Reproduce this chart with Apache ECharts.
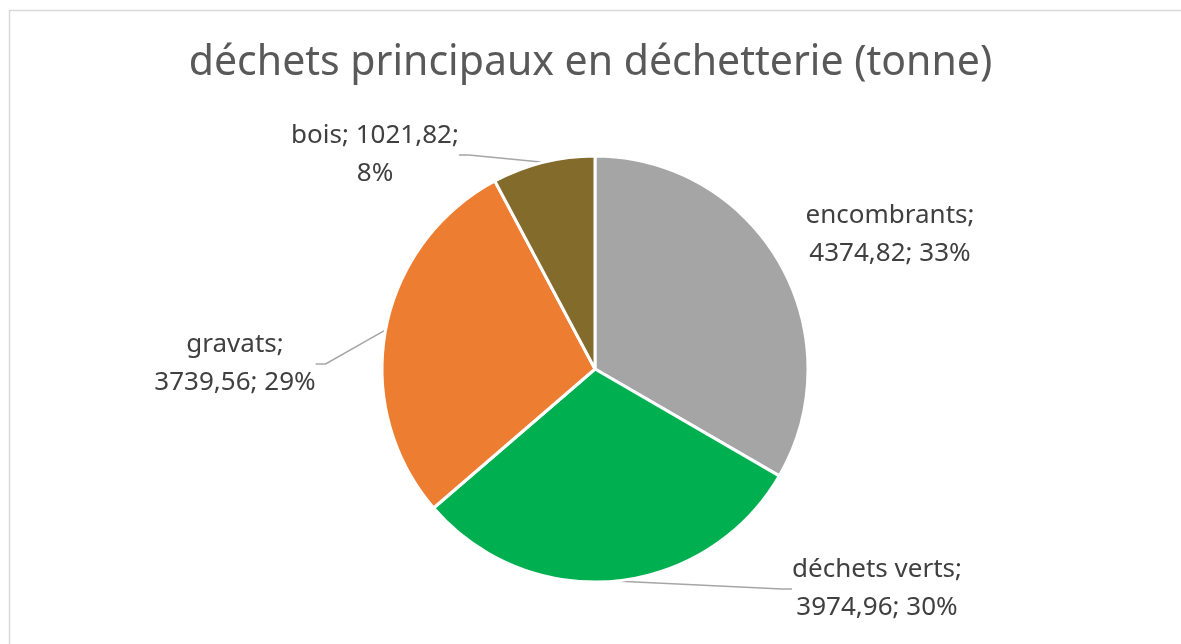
<!DOCTYPE html>
<html>
<head>
<meta charset="utf-8">
<script src="https://cdn.jsdelivr.net/npm/echarts@6/dist/echarts.min.js"></script>
<style>
  html, body { margin: 0; padding: 0; background: #fff; }
  #chart { width: 1181px; height: 644px; }
</style>
</head>
<body>
<div id="chart"></div>
<script>
const categories = ['encombrants', 'déchets verts', 'gravats', 'bois'];
const values = [4374.82, 3974.96, 3739.56, 1021.82];
const colors = ['#a5a5a5', '#00b050', '#ed7d31', '#836b2b'];
// where the line break goes in each label
const breakAfter = ['name', 'name', 'name', 'value'];
// label block centres (px)
const labelPos = [[890, 235], [877, 589], [235, 364], [375, 155]];

const fmt = v => v.toFixed(2).replace('.', ',');

let myChart = echarts.init(document.getElementById('chart'));
let option = {
  graphic: [
    {
      type: 'rect',
      left: 7,
      top: 8,
      shape: { width: 1180, height: 700 },
      style: { fill: 'none', stroke: '#d9d9d9', lineWidth: 1.5 },
      silent: true,
    },
  ],
  title: {
    text: 'déchets principaux en déchetterie (tonne)',
    left: 'center',
    top: 38,
    textStyle: {
      fontFamily: 'Noto Sans',
      fontSize: 41,
      fontWeight: 'normal',
      color: '#595959',
    },
  },
  series: [
    {
      type: 'pie',
      center: [595, 369],
      radius: 213,
      startAngle: 90,
      clockwise: true,
      percentPrecision: 0,
      animation: false,
      itemStyle: { borderColor: '#fff', borderWidth: 3 },
      label: {
        show: true,
        position: 'outside',
        fontFamily: 'Noto Sans',
        fontSize: 26,
        lineHeight: 38,
        color: '#404040',
        align: 'center',
        formatter: p => {
          const i = p.dataIndex;
          const sep = breakAfter[i] === 'name' ? ['\n', ' '] : [' ', '\n'];
          return p.name + ';' + sep[0] + fmt(p.value) + ';' + sep[1] + p.percent + '%';
        },
      },
      labelLine: {
        show: true,
        length: 10,
        length2: 10,
        lineStyle: { color: '#a6a6a6', width: 1.5 },
      },
      labelLayout: params => ({
        x: labelPos[params.dataIndex][0],
        y: labelPos[params.dataIndex][1],
        align: 'center',
        verticalAlign: 'middle',
      }),
      data: categories.map((c, i) => ({
        name: c,
        value: values[i],
        itemStyle: { color: colors[i] },
        labelLine: { show: i !== 0 },
      })),
    },
  ],
};
myChart.setOption(option);
</script>
</body>
</html>
